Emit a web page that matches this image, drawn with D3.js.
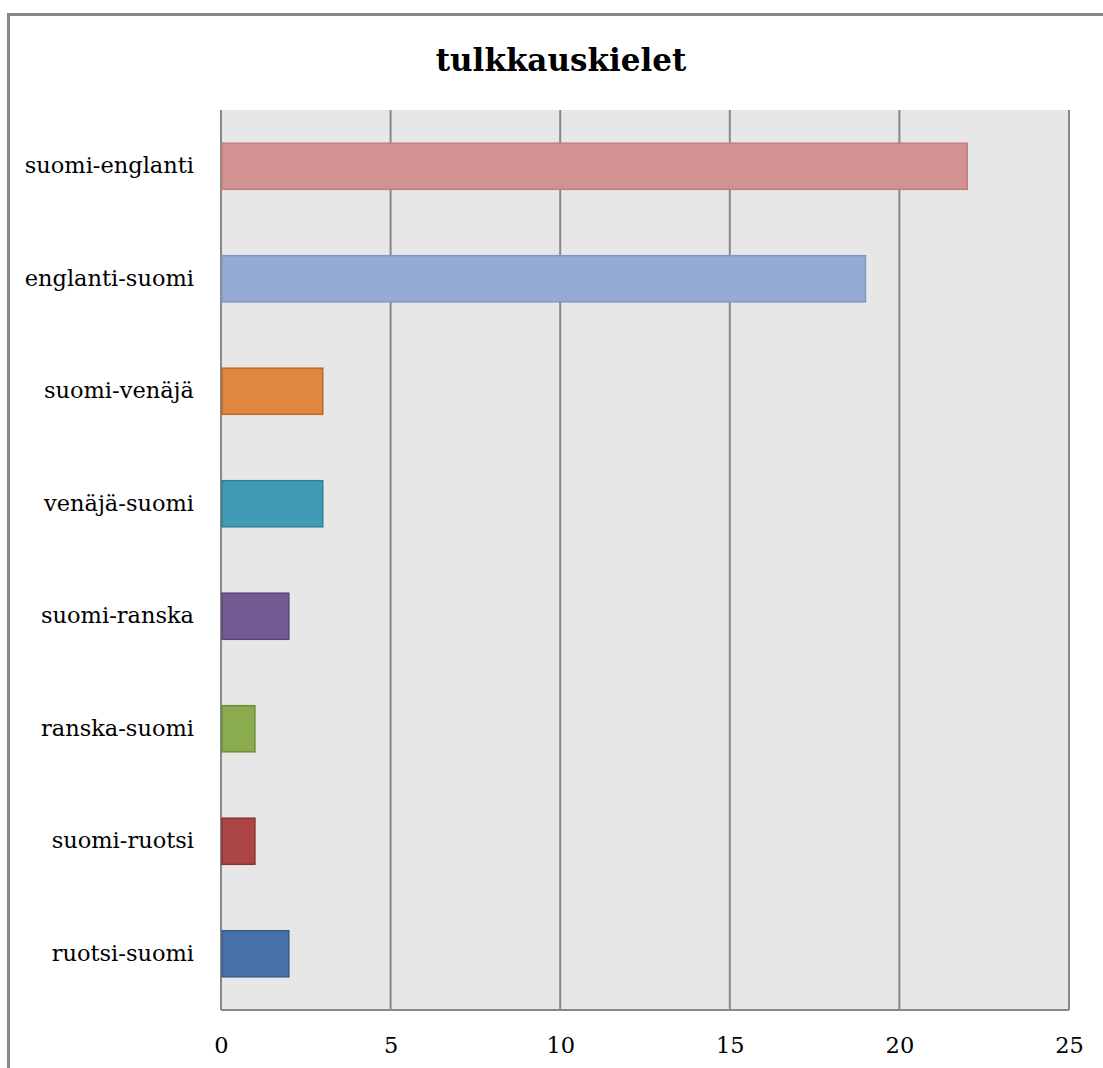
<!DOCTYPE html>
<html>
<head>
<meta charset="utf-8">
<script src="https://cdn.jsdelivr.net/npm/d3@7"></script>
<style>
  body { margin: 0; background: #fff; }
  svg { display: block; }
</style>
</head>
<body>
<svg id="chart"></svg>
<script>
const categories = ['suomi-englanti', 'englanti-suomi', 'suomi-venäjä', 'venäjä-suomi',
  'suomi-ranska', 'ranska-suomi', 'suomi-ruotsi', 'ruotsi-suomi'];
const values = [22, 19, 3, 3, 2, 1, 1, 2];
const xTicks = [0, 5, 10, 15, 20, 25];
const fills = ['#d39292', '#95abd3', '#e0863e', '#3f9cb4', '#725a93', '#8aab4e', '#ab4644', '#4571a8'];
const strokes = ['#c08080', '#8098c0', '#b86a2c', '#327f93', '#5a4676', '#6f8c3c', '#8b3533', '#385c8a'];

const width = 1103, height = 1068;
const margin = { top: 110, right: 34, bottom: 58, left: 221 };

const svg = d3.select('#chart').attr('width', width).attr('height', height);
const font = '"DejaVu Serif", "Liberation Serif", serif';

// frame of the chart object (cut off at right and bottom)
svg.append('path')
  .attr('d', `M8.5,${height} V14.5 H${width}`)
  .attr('fill', 'none')
  .attr('stroke', '#888')
  .attr('stroke-width', 3);

const x = d3.scaleLinear().domain([0, 25]).range([margin.left, width - margin.right]);
const y = d3.scaleBand().domain(categories).range([margin.top, height - margin.bottom]).paddingInner(0.59).paddingOuter(0.295);

// plot background
svg.append('rect')
  .attr('x', x(0)).attr('y', margin.top)
  .attr('width', x(25) - x(0)).attr('height', height - margin.bottom - margin.top)
  .attr('fill', '#e7e7e7');

// vertical gridlines
svg.append('g')
  .selectAll('line')
  .data(xTicks)
  .join('line')
  .attr('x1', d => x(d)).attr('x2', d => x(d))
  .attr('y1', margin.top).attr('y2', height - margin.bottom)
  .attr('stroke', '#888').attr('stroke-width', 2);

// bottom axis line
svg.append('line')
  .attr('x1', x(0)).attr('x2', x(25))
  .attr('y1', height - margin.bottom).attr('y2', height - margin.bottom)
  .attr('stroke', '#888').attr('stroke-width', 2);

// bars
svg.append('g')
  .selectAll('rect')
  .data(categories)
  .join('rect')
  .attr('x', x(0) + 1)
  .attr('y', d => y(d))
  .attr('width', (d, i) => x(values[i]) - x(0) - 1)
  .attr('height', y.bandwidth())
  .attr('fill', (d, i) => fills[i])
  .attr('stroke', (d, i) => strokes[i])
  .attr('stroke-width', 1.5);

// x axis labels
const xAxis = d3.axisBottom(x).tickValues(xTicks).tickSize(0).tickPadding(27);
svg.append('g')
  .attr('transform', `translate(0,${height - margin.bottom})`)
  .call(xAxis)
  .call(g => g.select('.domain').remove())
  .call(g => g.selectAll('text').attr('font-family', font).attr('font-size', 22.5).attr('fill', '#000'));

// y axis labels
const yAxis = d3.axisLeft(y).tickSize(0).tickPadding(27);
svg.append('g')
  .attr('transform', `translate(${x(0)},0)`)
  .call(yAxis)
  .call(g => g.select('.domain').remove())
  .call(g => g.selectAll('text').attr('font-family', font).attr('font-size', 22.5).attr('fill', '#000'));

// title
svg.append('text')
  .attr('x', 561).attr('y', 71)
  .attr('text-anchor', 'middle')
  .attr('font-family', font)
  .attr('font-weight', 'bold')
  .attr('font-size', 31)
  .text('tulkkauskielet');
</script>
</body>
</html>
